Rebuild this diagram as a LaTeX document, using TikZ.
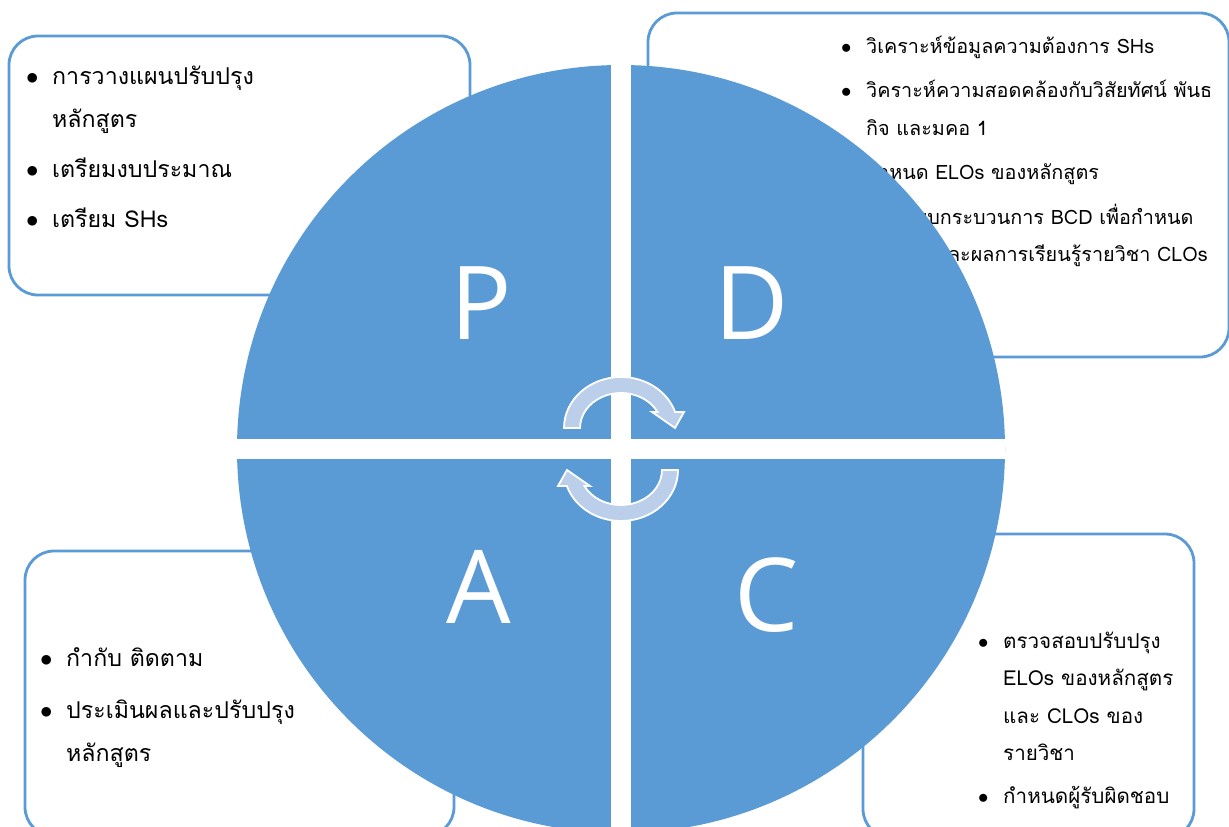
\documentclass[tikz,border=0pt]{standalone}
\usepackage{fontspec}
\usepackage{xcolor}
\newfontfamily\thaifont[Script=Thai]{Loma}
\newfontfamily\letterfont{Open Sans}
\definecolor{pdcablue}{HTML}{5B9BD5}
\definecolor{cyclefill}{HTML}{BCCFEA}

\begin{document}
\begin{tikzpicture}[x=1pt, y=1pt,
    infobox/.style = {draw=pdcablue, line width=2.8pt, rounded corners=29pt},
    bigtext/.style = {anchor=base west, inner sep=0pt, text=black, font=\thaifont\fontsize{23.2}{43}\selectfont},
    smalltext/.style = {anchor=base west, inner sep=0pt, text=black, font=\thaifont\fontsize{19.8}{37.5}\selectfont},
    quarter/.style = {inner sep=0pt, text=white, font=\letterfont\fontsize{102}{102}\selectfont},
    cycle/.style = {fill=cyclefill, draw=white, line width=1.8pt, line join=miter}]

    \useasboundingbox (0,0) rectangle (1229,-827);
    \clip (0,0) rectangle (1229,-827);
    \fill[white] (0,0) rectangle (1229,-827);

    % boxes behind the wheel
    \draw [infobox] (9,-36) rectangle (470,-295);
    \draw [infobox] (648,-13) rectangle (1229,-357);
    \draw [infobox] (25,-551) rectangle (454,-836);
    \draw [infobox] (863,-534) rectangle (1194,-838);

    \node [bigtext] (plan) at (26,-84) {\begin{tabular}[t]{@{}p{26pt}@{}l@{}}
        $\bullet$ & การวางแผนปรับปรุง \\
                  & หลักสูตร \\[7pt]
        $\bullet$ & เตรียมงบประมาณ \\[7pt]
        $\bullet$ & เตรียม SHs
    \end{tabular}};

    \node [smalltext] (do) at (841,-53) {\begin{tabular}[t]{@{}p{25pt}@{}l@{}}
        $\bullet$ & วิเคราะห์ข้อมูลความต้องการ SHs \\[7pt]
        $\bullet$ & วิคราะห์ความสอดคล้องกับวิสัยทัศน์ พันธ \\
                  & กิจ และมคอ 1 \\[7pt]
        $\bullet$ & กำหนด ELOs ของหลักสูตร \\[7pt]
        $\bullet$ & ออกแบบกระบวนการ BCD เพื่อกำหนด \\
                  & รายวิชาและผลการเรียนรู้รายวิชา CLOs
    \end{tabular}};

    \node [bigtext] (act) at (40,-666) {\begin{tabular}[t]{@{}p{26pt}@{}l@{}}
        $\bullet$ & กำกับ ติดตาม \\[9pt]
        $\bullet$ & ประเมินผลและปรับปรุง \\
                  & หลักสูตร
    \end{tabular}};

    \node [smalltext, font=\thaifont\fontsize{20.6}{37.5}\selectfont] (check) at (978,-648) {\begin{tabular}[t]{@{}p{25pt}@{}l@{}}
        $\bullet$ & ตรวจสอบปรับปรุง \\
                  & ELOs ของหลักสูตร \\
                  & และ CLOs ของ \\
                  & รายวิชา \\[5pt]
        $\bullet$ & กำหนดผู้รับผิดชอบ
    \end{tabular}};

    % the wheel
    \fill [pdcablue] (621,-449) circle [radius=384pt];
    \draw [white, line width=20pt] (237,-449) -- (1005,-449);
    \draw [white, line width=20pt] (621,-60) -- (621,-840);

    \node [quarter] (P) at (481,-303) {P};
    \node [quarter] (D) at (752,-303) {D};
    \node [quarter] (A) at (479,-587) {A};
    \node [quarter] (C) at (767,-595) {C};

    % turning arrows
    \begin{scope}[shift={(621,-449)}]
        \draw [cycle] (-41,21) -- (-57,21) arc [start angle=180, end angle=18.3, x radius=57pt, y radius=51pt]
            -- (63,37) -- (54,21) -- (31,37) -- (36.5,37)
            arc [start angle=27.2, end angle=180, x radius=41pt, y radius=35pt] -- cycle;
    \end{scope}
    \begin{scope}[shift={(621,-449)}, rotate=180]
        \draw [cycle] (-41,21) -- (-57,21) arc [start angle=180, end angle=18.3, x radius=57pt, y radius=51pt]
            -- (63,37) -- (54,21) -- (31,37) -- (36.5,37)
            arc [start angle=27.2, end angle=180, x radius=41pt, y radius=35pt] -- cycle;
    \end{scope}

\end{tikzpicture}
\end{document}
